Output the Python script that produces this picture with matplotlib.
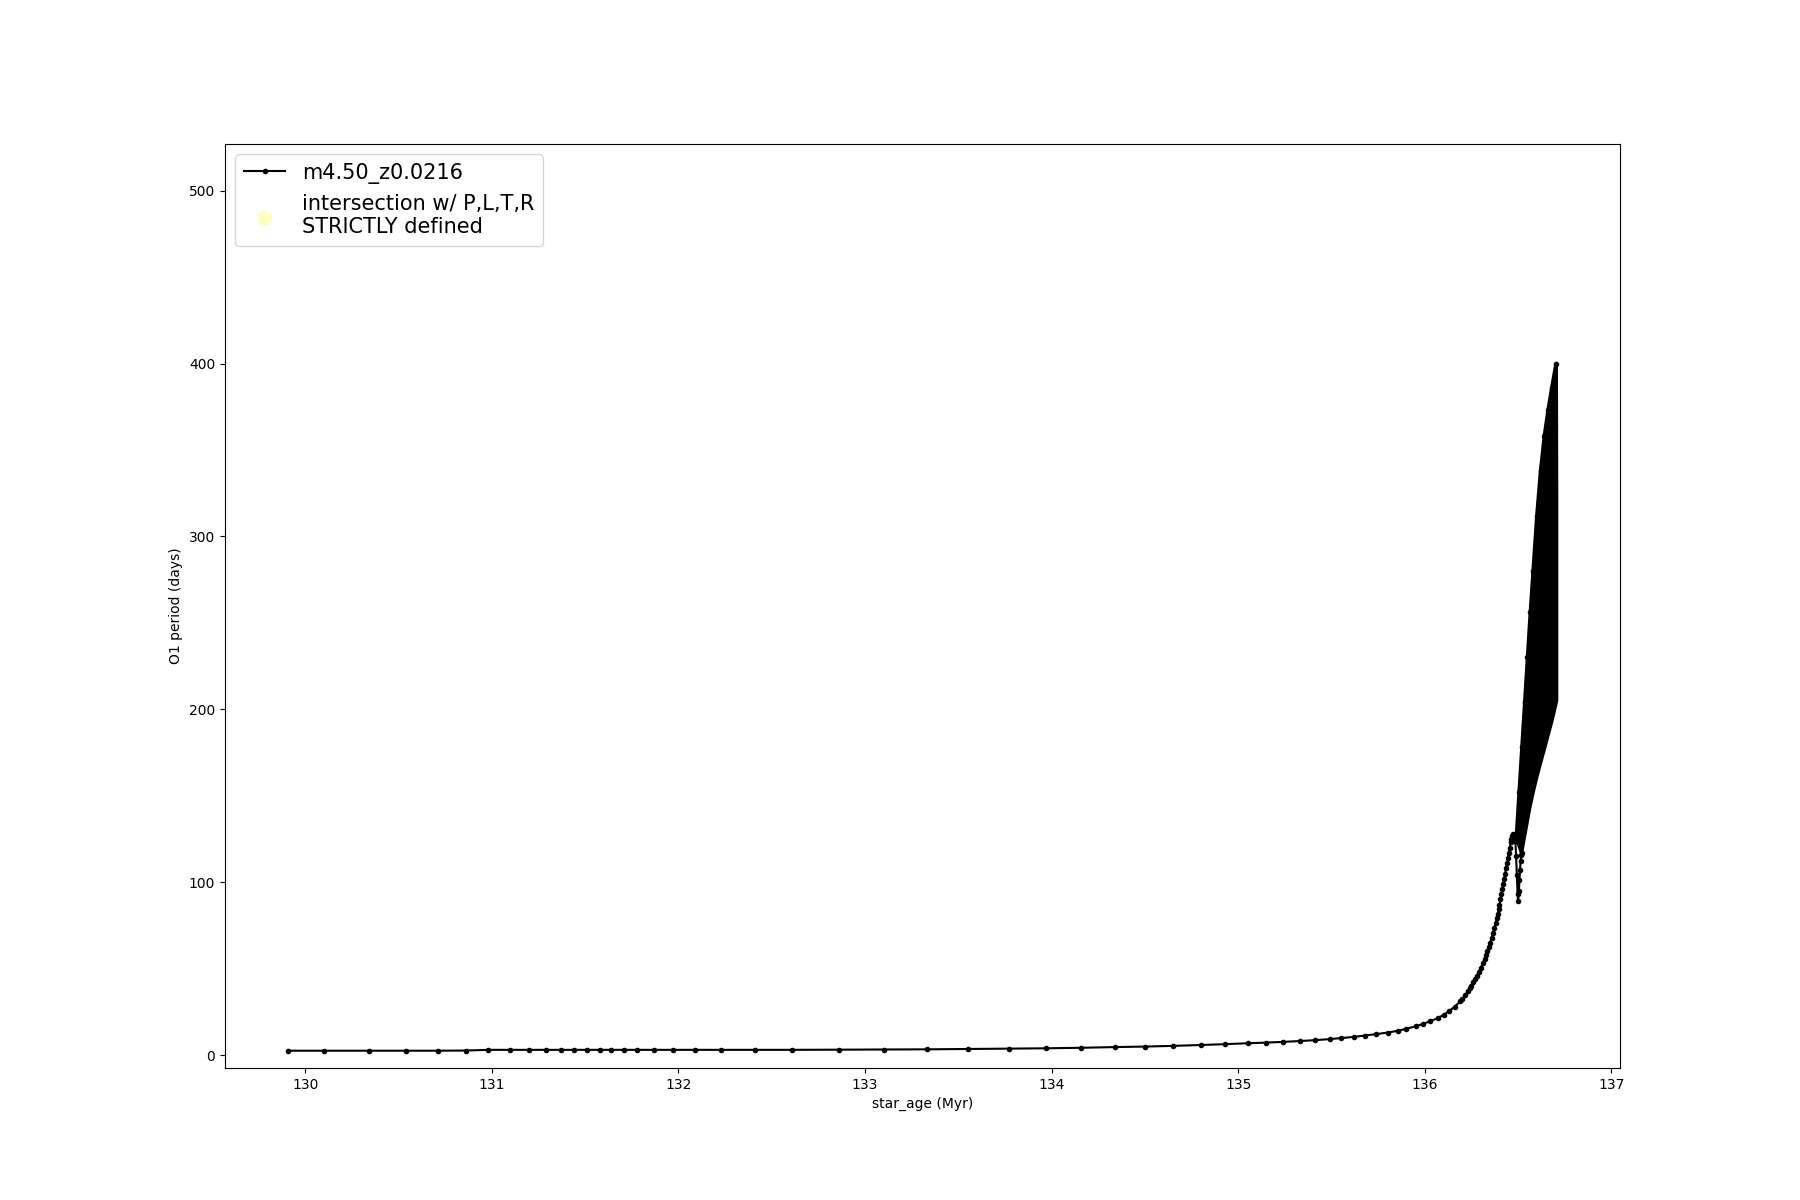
import numpy as np
import matplotlib
matplotlib.use("Agg")
import matplotlib.pyplot as plt

# Evolutionary track (markers)
age_track = [129.91, 130.10, 130.34, 130.54, 130.71, 130.86, 130.98, 131.10, 131.20, 131.29,
             131.37, 131.44, 131.51, 131.58, 131.64, 131.71, 131.78, 131.87, 131.97, 132.09,
             132.23, 132.41, 132.61, 132.86, 133.10, 133.33, 133.55, 133.77, 133.97, 134.16,
             134.34, 134.50, 134.65, 134.80, 134.93, 135.05, 135.15, 135.24, 135.33, 135.41,
             135.49, 135.55, 135.62, 135.68, 135.74, 135.80, 135.855, 135.90, 135.95, 135.99,
             136.03, 136.07, 136.10, 136.13, 136.16, 136.19, 136.20, 136.215, 136.23, 136.24,
             136.25, 136.26, 136.27, 136.28, 136.29, 136.30, 136.31, 136.32, 136.328, 136.335,
             136.343, 136.35, 136.358, 136.365, 136.372, 136.38, 136.385, 136.39, 136.395, 136.40,
             136.405, 136.41, 136.415, 136.42, 136.425, 136.43, 136.435, 136.44, 136.445, 136.45,
             136.455, 136.46, 136.464, 136.468, 136.472, 136.475, 136.480, 136.485, 136.489, 136.493,
             136.497, 136.50, 136.504, 136.507, 136.510, 136.513, 136.516, 136.518]
p_track = [2.5, 2.5, 2.5, 2.5, 2.5, 2.6, 3.0, 3.0, 3.0, 3.0,
           3.0, 3.0, 3.0, 3.0, 3.0, 3.0, 3.0, 3.0, 3.0, 3.0,
           3.0, 3.0, 3.0, 3.1, 3.2, 3.3, 3.5, 3.7, 3.9, 4.2,
           4.6, 4.9, 5.3, 5.8, 6.3, 6.8, 7.2, 7.6, 8.1, 8.6,
           9.2, 9.8, 10.5, 11.3, 12.1, 13.0, 14.0, 15.2, 16.6, 18.0,
           19.6, 21.4, 23.2, 25.4, 28.0, 31.0, 32.2, 34.5, 37.0, 38.5,
           40.2, 42.0, 44.0, 46.0, 48.2, 50.5, 53.0, 55.5, 57.7, 60.0,
           62.5, 65.0, 67.7, 70.5, 73.5, 76.5, 79.0, 81.5, 84.2, 87.0,
           90.0, 93.0, 96.0, 99.0, 102.0, 105.0, 108.0, 111.0, 114.0, 117.0,
           120.0, 123.0, 125.0, 126.5, 127.5, 128.0, 127.0, 124.0, 115.0, 104.0,
           93.0, 89.0, 95.0, 101.0, 107.0, 112.0, 115.5, 117.0]

# Envelopes of the dense pulsation band
up_age = [136.490, 136.505, 136.520, 136.535, 136.550, 136.565, 136.580, 136.600,
          136.620, 136.640, 136.660, 136.680, 136.703]
up_p = [126, 152, 178, 204, 230, 256, 280, 312, 338, 358, 373, 386, 400]
low_age = [136.518, 136.540, 136.560, 136.580, 136.600, 136.620, 136.640, 136.660,
           136.680, 136.706]
low_p = [117, 130, 142, 152, 161, 169, 177, 185, 193, 205]
edge_age = [136.706, 136.706, 136.704]
edge_p = [205, 320, 400]

fig, ax = plt.subplots(figsize=(18, 12), dpi=100)

ax.plot(age_track, p_track, '.-', color='black', label='m4.50_z0.0216',
        solid_joinstyle='round')

band_x = np.concatenate([up_age, edge_age[::-1], low_age[::-1]])
band_y = np.concatenate([up_p, edge_p[::-1], low_p[::-1]])
ax.fill(band_x, band_y, facecolor='black', edgecolor='black', linewidth=2.5,
        joinstyle='round')
ax.plot(up_age, up_p, '.', color='black', markersize=6)

ax.scatter([], [], s=120, color='yellow', alpha=0.25, edgecolors='none',
           label='intersection w/ P,L,T,R\nSTRICTLY defined')

ax.set_ylim(-7.5, 527)
ax.set_xticks([130, 131, 132, 133, 134, 135, 136, 137])
ax.set_yticks([0, 100, 200, 300, 400, 500])
ax.set_xlabel('star_age (Myr)')
ax.set_ylabel('O1 period (days)')
ax.legend(loc='upper left', fontsize=15)

fig.savefig('out.png', dpi=100)
